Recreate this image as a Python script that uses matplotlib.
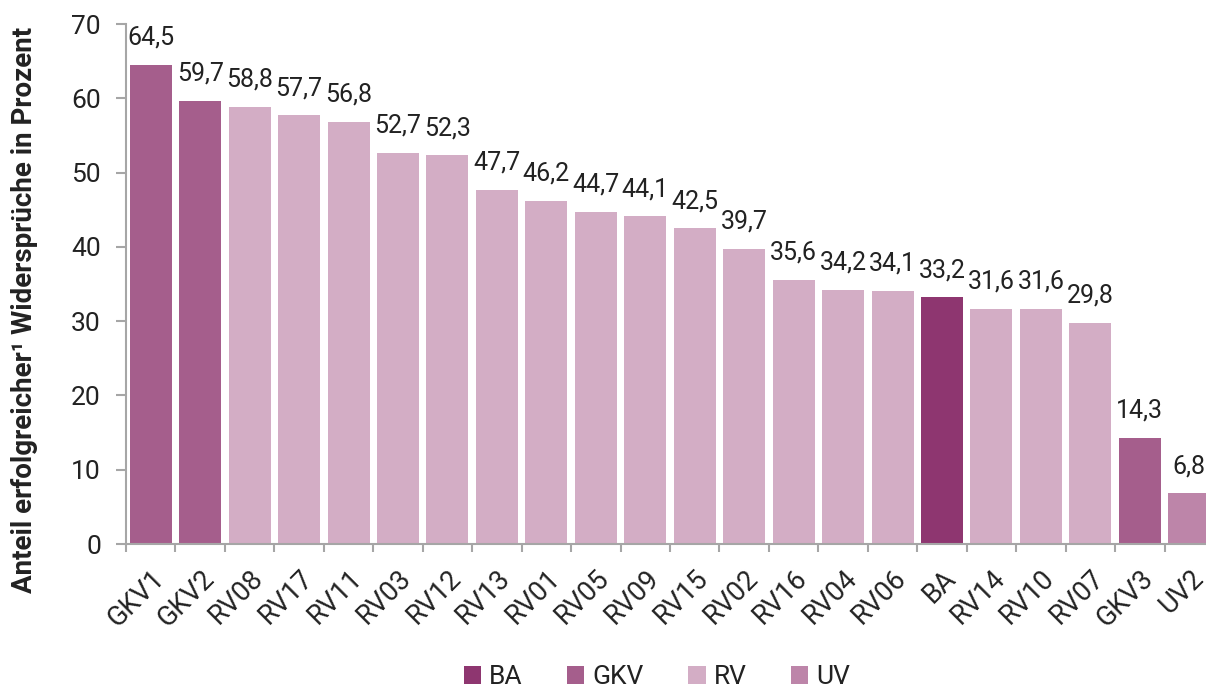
import matplotlib
matplotlib.use("Agg")
import matplotlib.pyplot as plt
from matplotlib.patches import Patch

plt.rcParams['font.family'] = ['Roboto', 'DejaVu Sans']

categories = ["GKV1", "GKV2", "RV08", "RV17", "RV11", "RV03", "RV12", "RV13", "RV01", "RV05",
              "RV09", "RV15", "RV02", "RV16", "RV04", "RV06", "BA", "RV14", "RV10", "RV07",
              "GKV3", "UV2"]
values = [64.5, 59.7, 58.8, 57.7, 56.8, 52.7, 52.3, 47.7, 46.2, 44.7,
          44.1, 42.5, 39.7, 35.6, 34.2, 34.1, 33.2, 31.6, 31.6, 29.8,
          14.3, 6.8]
groups = ["GKV", "GKV", "RV", "RV", "RV", "RV", "RV", "RV", "RV", "RV",
          "RV", "RV", "RV", "RV", "RV", "RV", "BA", "RV", "RV", "RV",
          "GKV", "UV"]
legend_order = ["BA", "GKV", "RV", "UV"]
colors = {"BA": "#8e3670", "GKV": "#a55e8c", "RV": "#d3adc5", "UV": "#bd85a9"}
ylabel = "Anteil erfolgreicher\u00b9 Widersprüche in Prozent"

text_color = "#222222"
axis_color = "#a6a6a6"

fig = plt.figure(figsize=(12.06, 6.87), dpi=100)
ax = fig.add_axes([126 / 1206, 1 - 544 / 687, 1088 / 1206, (544 - 24) / 687])

x = list(range(len(categories)))
ax.bar(x, values, width=0.85, color=[colors[g] for g in groups], zorder=2)

for xi, v in zip(x, values):
    ax.annotate(f"{v:.1f}".replace(".", ","), (xi, v), xytext=(0, 11),
                textcoords="offset points", ha="center", va="bottom",
                fontsize=18, color=text_color)

ax.set_xlim(-0.5, len(categories) - 0.5)
ax.set_ylim(0, 70)
ax.set_yticks(range(0, 71, 10))
ax.set_xticks(x)
ax.set_xticklabels(categories, rotation=45, ha="right", rotation_mode="anchor",
                   fontsize=19.5, color=text_color)
ax.set_xticks([i - 0.5 for i in range(len(categories) + 1)], minor=True)
ax.tick_params(axis="x", which="major", length=0, pad=15)
ax.tick_params(axis="x", which="minor", length=6, width=1.5, color=axis_color)
ax.tick_params(axis="y", length=7, width=1.5, color=axis_color, labelsize=19,
               labelcolor=text_color, pad=11)

for s in ["top", "right"]:
    ax.spines[s].set_visible(False)
for s in ["left", "bottom"]:
    ax.spines[s].set_color(axis_color)
    ax.spines[s].set_linewidth(1.5)

fig.text(25 / 1206, 1 - 310 / 687, ylabel, rotation=90, ha="center", va="center",
         fontsize=20, fontweight="bold", color=text_color)

handles = [Patch(facecolor=colors[g], label=g) for g in legend_order]
leg = fig.legend(handles=handles, loc="center", bbox_to_anchor=(657 / 1206, 1 - 677 / 687),
                 ncol=4, frameon=False, fontsize=19, handlelength=0.65, handleheight=0.65,
                 handletextpad=0.3, columnspacing=1.7, borderpad=0)
for t in leg.get_texts():
    t.set_color(text_color)

fig.savefig("out.png", dpi=100)
